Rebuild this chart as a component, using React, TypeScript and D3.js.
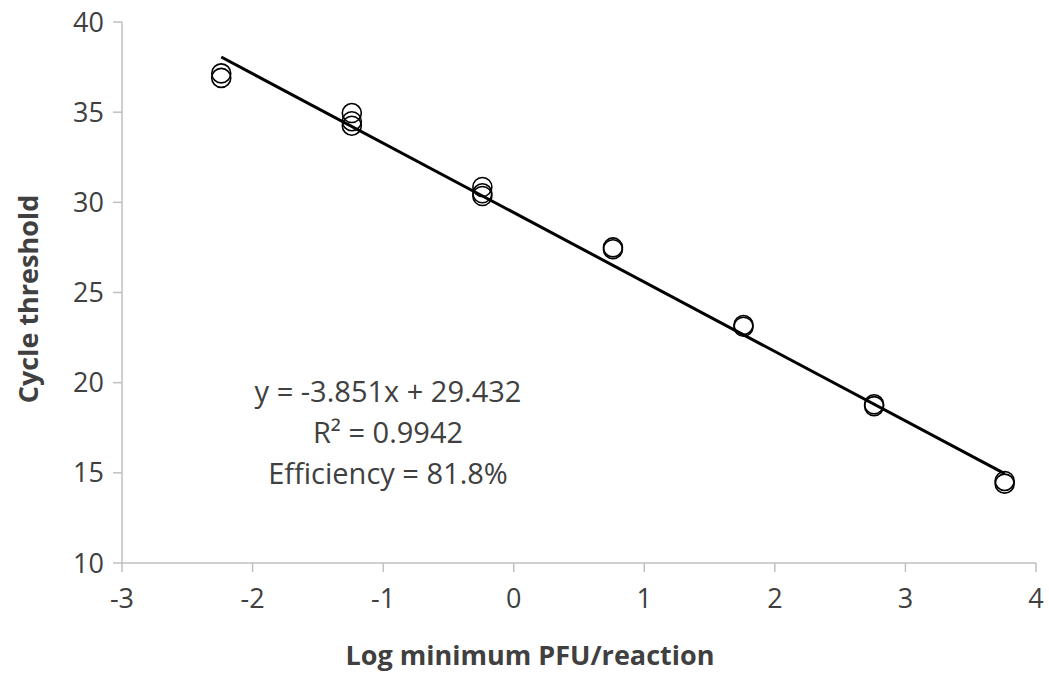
import React, { useEffect, useRef } from 'react';
import * as d3 from 'd3';

// replicate measurements (log PFU vs Ct)
const logPfu = [-2.24, -2.24, -1.24, -1.24, -1.24, -0.24, -0.24, -0.24, 0.76, 0.76, 1.76, 1.76, 2.76, 2.76, 3.76, 3.76];
const ctValues = [37.15, 36.9, 34.95, 34.5, 34.25, 30.85, 30.5, 30.35, 27.5, 27.4, 23.2, 23.1, 18.8, 18.7, 14.55, 14.4];
const xTicks = [-3, -2, -1, 0, 1, 2, 3, 4];
const yTicks = [10, 15, 20, 25, 30, 35, 40];
const slope = -3.851;
const intercept = 29.432;
const fitLabels = ['y = -3.851x + 29.432', 'R² = 0.9942', 'Efficiency = 81.8%'];

export default function App() {
  const svgRef = useRef<SVGSVGElement>(null);

  useEffect(() => {
    const svg = d3.select(svgRef.current); svg.selectAll('*').remove();
    const font = '"Open Sans", sans-serif';
    const textColor = '#404040', axisColor = '#bfbfbf';
    const x = d3.scaleLinear().domain([-3, 4]).range([122, 1036]);
    const y = d3.scaleLinear().domain([10, 40]).range([563, 22]);

    // axes
    svg.append('line').attr('x1', x(-3)).attr('x2', x(4)).attr('y1', y(10)).attr('y2', y(10)).attr('stroke', axisColor).attr('stroke-width', 1.5);
    svg.append('line').attr('x1', x(-3)).attr('x2', x(-3)).attr('y1', y(10)).attr('y2', y(40)).attr('stroke', axisColor).attr('stroke-width', 1.5);
    svg.selectAll('.xt').data(xTicks).enter().append('line')
      .attr('x1', d => x(d)).attr('x2', d => x(d)).attr('y1', y(10)).attr('y2', y(10) + 9).attr('stroke', axisColor).attr('stroke-width', 1.5);
    svg.selectAll('.yt').data(yTicks).enter().append('line')
      .attr('x1', x(-3) - 9).attr('x2', x(-3)).attr('y1', d => y(d)).attr('y2', d => y(d)).attr('stroke', axisColor).attr('stroke-width', 1.5);
    svg.selectAll('.xl').data(xTicks).enter().append('text')
      .attr('x', d => x(d)).attr('y', 608).attr('text-anchor', 'middle')
      .attr('font-family', font).attr('font-size', 27).attr('fill', textColor).text(d => d);
    svg.selectAll('.yl').data(yTicks).enter().append('text')
      .attr('x', 104).attr('y', d => y(d) + 9.5).attr('text-anchor', 'end')
      .attr('font-family', font).attr('font-size', 27).attr('fill', textColor).text(d => d);

    // axis titles
    svg.append('text').attr('x', 530).attr('y', 665).attr('text-anchor', 'middle')
      .attr('font-family', font).attr('font-size', 27).attr('font-weight', 'bold').attr('fill', textColor)
      .text('Log minimum PFU/reaction');
    svg.append('text').attr('transform', 'translate(38,299) rotate(-90)').attr('text-anchor', 'middle')
      .attr('font-family', font).attr('font-size', 27).attr('font-weight', 'bold').attr('fill', textColor)
      .text('Cycle threshold');

    // points
    const pts = logPfu.map((v, i) => [v, ctValues[i]]);
    svg.selectAll('circle').data(pts).enter().append('circle')
      .attr('cx', d => x(d[0])).attr('cy', d => y(d[1])).attr('r', 9.5)
      .attr('fill', 'none').attr('stroke', '#000').attr('stroke-width', 1.6);

    // trendline
    const xs = d3.extent(logPfu) as [number, number];
    svg.append('path').datum(xs)
      .attr('d', d3.line<number>().x(d => x(d)).y(d => y(slope * d + intercept)))
      .attr('stroke', '#000').attr('stroke-width', 3).attr('fill', 'none');

    // fit annotation
    svg.selectAll('.fit').data(fitLabels).enter().append('text')
      .attr('x', 388).attr('y', (_, i) => 402 + i * 41).attr('text-anchor', 'middle')
      .attr('font-family', font).attr('font-size', 29).attr('fill', textColor).text(d => d);
  }, []);

  return (
    <svg ref={svgRef} width={1049} height={675} viewBox="0 0 1049 675"
      style={{ position: 'absolute', left: 0, top: 0, background: '#fff' }} />
  );
}
